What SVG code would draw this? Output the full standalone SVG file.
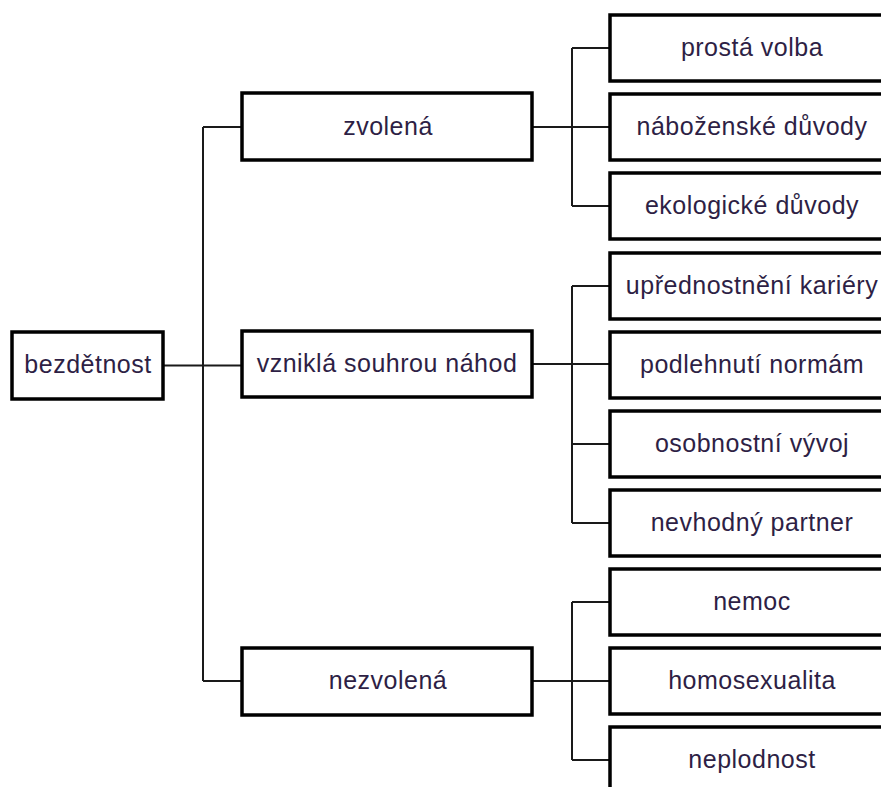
<svg xmlns="http://www.w3.org/2000/svg" width="881" height="787" viewBox="0 0 881 787">
<style>
.box{fill:#fff;stroke:#000;stroke-width:3.5}
.lbl{font-family:"Liberation Sans",Arial,sans-serif;font-size:25px;letter-spacing:0.5px;fill:#2e1f45;text-anchor:middle}
.con{fill:none;stroke:#1a1a1a;stroke-width:2}
</style>
<rect width="881" height="787" fill="#fff"/>
<g id="connectors">
<path class="con" d="M163 365.5H242M203 127V681M203 127H242M203 681H242"/>
<path class="con" d="M532 127H610M572 48V206M572 48H610M572 206H610"/>
<path class="con" d="M532 364H610M572 286V523M572 286H610M572 444H610M572 523H610"/>
<path class="con" d="M532 681H610M572 602V760M572 602H610M572 760H610"/>
</g>
<g id="n-bezdetnost"><rect class="box" x="12" y="332" width="151" height="67"/><text class="lbl" x="88" y="373">bezdětnost</text></g>
<g id="n-zvolena"><rect class="box" x="242" y="93" width="290" height="67"/><text class="lbl" x="388" y="135">zvolená</text></g>
<g id="n-vznikla"><rect class="box" x="242" y="331" width="290" height="66"/><text class="lbl" x="387" y="372">vzniklá souhrou náhod</text></g>
<g id="n-nezvolena"><rect class="box" x="242" y="648" width="290" height="67"/><text class="lbl" x="388" y="689">nezvolená</text></g>
<g id="c1"><rect class="box" x="610" y="15" width="290" height="66"/><text class="lbl" x="752" y="56">prostá volba</text></g>
<g id="c2"><rect class="box" x="610" y="94" width="290" height="66"/><text class="lbl" x="752" y="135">náboženské důvody</text></g>
<g id="c3"><rect class="box" x="610" y="173" width="290" height="66"/><text class="lbl" x="752" y="214">ekologické důvody</text></g>
<g id="c4"><rect class="box" x="610" y="253" width="290" height="66"/><text class="lbl" x="752" y="294">upřednostnění kariéry</text></g>
<g id="c5"><rect class="box" x="610" y="332" width="290" height="66"/><text class="lbl" x="752" y="373">podlehnutí normám</text></g>
<g id="c6"><rect class="box" x="610" y="411" width="290" height="66"/><text class="lbl" x="752" y="452">osobnostní vývoj</text></g>
<g id="c7"><rect class="box" x="610" y="490" width="290" height="66"/><text class="lbl" x="752" y="531">nevhodný partner</text></g>
<g id="c8"><rect class="box" x="610" y="569" width="290" height="66"/><text class="lbl" x="752" y="610">nemoc</text></g>
<g id="c9"><rect class="box" x="610" y="648" width="290" height="66"/><text class="lbl" x="752" y="689">homosexualita</text></g>
<g id="c10"><rect class="box" x="610" y="727" width="290" height="66"/><text class="lbl" x="752" y="768">neplodnost</text></g>
</svg>
